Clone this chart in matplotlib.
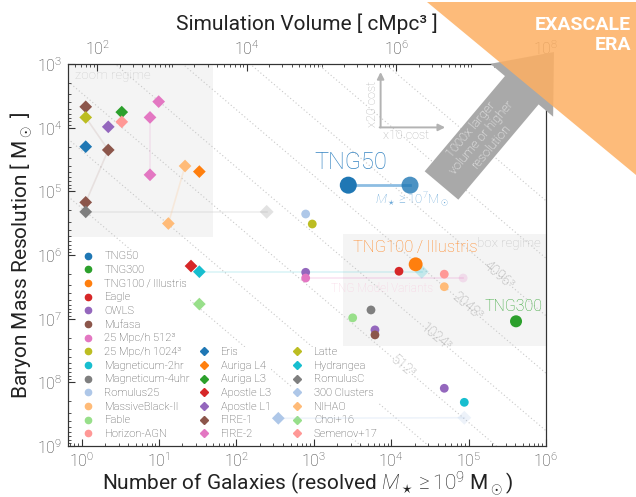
import numpy as np
import matplotlib
matplotlib.use("Agg")
import matplotlib.pyplot as plt
from matplotlib.lines import Line2D
from matplotlib.patches import Polygon, Rectangle
from matplotlib.ticker import LogLocator, NullFormatter

plt.rcParams["font.family"] = ["Roboto", "DejaVu Sans"]
plt.rcParams["font.weight"] = "light"
plt.rcParams["mathtext.fontset"] = "custom"
plt.rcParams["mathtext.rm"] = "Roboto:light"
plt.rcParams["mathtext.it"] = "Roboto:italic:light"
plt.rcParams["mathtext.bf"] = "Roboto:bold"

# ---------------- data ----------------
# cosmological volumes (circles)
box_names = ["TNG50", "TNG300", "TNG100\u2009/\u2009Illustris", "Eagle", "OWLS", "Mufasa",
             "25 Mpc/h 512\u00b3", "25 Mpc/h 1024\u00b3", "Magneticum-2hr",
             "Magneticum-4uhr", "Romulus25", "MassiveBlack-II", "Fable", "Horizon-AGN"]
box_colors = ["#1f77b4", "#2ca02c", "#ff7f0e", "#d62728", "#9467bd", "#8c564b",
              "#e377c2", "#bcbd22", "#17becf", "#7f7f7f", "#aec7e8", "#ffbb78",
              "#98df8a", "#ff9896"]
box_ngal = [[2.79e3], [4.1e5], [2.07e4], [1.26e4], [785, 6.17e3, 4.85e4], [6.17e3],
            [785], [955], [8.8e4], [5.48e3], [785], [4.85e4], [3.18e3], [4.85e4]]
box_mass = [[8.0e4], [1.1e7], [1.4e6], [1.8e6], [1.87e6, 1.5e7, 1.24e8], [1.8e7],
            [2.3e6], [3.26e5], [2.06e8], [7.3e6], [2.27e5], [3.15e6], [9.7e6], [2.0e6]]

# TNG50 counting galaxies down to M* >= 1e7 Msun
tng50_low_ngal = 1.75e4
tng50_low_mass = 8.0e4
# TNG model variants run in 25 Mpc/h boxes
variants_ngal = [785, 8.5e4]
variants_mass = [2.3e6, 2.3e6]

# zoom-in simulations (diamonds)
zoom_names = ["Eris", "Auriga L4", "Auriga L3", "Apostle L3", "Apostle L1", "FIRE-1",
              "FIRE-2", "Latte", "Hydrangea", "RomulusC", "300 Clusters", "NIHAO",
              "Choi+16", "Semenov+17"]
zoom_colors = ["#1f77b4", "#ff7f0e", "#2ca02c", "#d62728", "#9467bd", "#8c564b",
               "#e377c2", "#bcbd22", "#17becf", "#7f7f7f", "#aec7e8", "#ffbb78",
               "#98df8a", "#ff9896"]
zoom_ngal = [[1.13], [33.2], [3.3], [25.9], [2.21], [1.13, 2.21, 1.13], [9.9, 7.65, 7.65],
             [1.13], [33.2], [1.13], [348], [21.7, 13.2], [33.2], [3.3]]
zoom_mass = [[1.99e4], [4.9e4], [5.7e3], [1.49e6], [9.7e3], [4.7e3, 2.24e4, 1.49e5],
             [3.9e3, 6.9e3, 5.5e4], [6.9e3], [1.83e6], [2.1e5], [3.67e8],
             [4.0e4, 3.2e5], [5.9e6], [8.1e3]]
# effective galaxy counts of zoom projects (faded markers)
zoom_eff_ngal = [2.48e4, 246, 8.8e4]
zoom_eff_mass = [1.83e6, 2.1e5, 3.6e8]
zoom_eff_colors = ["#17becf", "#7f7f7f", "#aec7e8"]

# lines of constant particle number
npart_cuberoot = [128, 256, 512, 1024, 2048, 4096, 8192, 16384]
npart_labelled = [512, 1024, 2048, 4096]
npart_label_ngal = [1.42e4, 3.79e4, 9.53e4, 2.41e5]
rho_baryon = 6.19e9  # Msun / cMpc^3

# axis ranges and ticks
ngal_lim = (0.667, 1.0e6)
vol_lim = (10 ** 1.61, 1.0e8)
mass_lim = (1.0e9, 1.0e3)
ngal_ticks = [1e0, 1e1, 1e2, 1e3, 1e4, 1e5, 1e6]
mass_ticks = [1e3, 1e4, 1e5, 1e6, 1e7, 1e8, 1e9]
vol_ticks = [1e2, 1e4, 1e6, 1e8]

# ---------------- figure ----------------
W, H = 636, 497
fig = plt.figure(figsize=(W / 100, H / 100), dpi=100)
ax = fig.add_axes([68 / W, 51 / H, 478 / W, 382 / H])
ax.set_xscale("log")
ax.set_yscale("log")
ax.set_xlim(*ngal_lim)
ax.set_ylim(*mass_lim)

txt_col = "#333333"
for s in ax.spines.values():
    s.set_color("#333333")

# regimes
ax.add_patch(Rectangle((ngal_lim[0], 1e3), 49.9 - ngal_lim[0], 5.2e5 - 1e3,
                       facecolor="#f4f4f4", edgecolor="none", zorder=0))
ax.add_patch(Rectangle((2.36e3, 4.7e5), ngal_lim[1] - 2.36e3, 2.7e7 - 4.7e5,
                       facecolor="#f4f4f4", edgecolor="none", zorder=0))
ax.text(0.0146, 0.971, "zoom regime", transform=ax.transAxes, color="#cdcdcd",
        fontsize=9.5, ha="left", va="center")
ax.text(0.9895, 0.529, "box regime", transform=ax.transAxes, color="#c4c4c4",
        fontsize=9.5, ha="right", va="center")


def ngal_to_vol(n):
    ln0, ln1 = np.log10(ngal_lim)
    lv0, lv1 = np.log10(vol_lim)
    return 10 ** (lv0 + (np.log10(n) - ln0) * (lv1 - lv0) / (ln1 - ln0))


# constant particle-number lines
ngrid = np.logspace(np.log10(ngal_lim[0]), np.log10(ngal_lim[1]), 200)
for c in npart_cuberoot:
    ax.plot(ngrid, rho_baryon * ngal_to_vol(ngrid) / float(c) ** 3,
            color="#c8c8c8", lw=0.8, ls=(0, (1, 2.2)), zorder=1)

# faint connectors
conn_kw = dict(lw=1.2, zorder=2.6)
ax.plot([zoom_ngal[9][0], zoom_eff_ngal[1]], [zoom_mass[9][0], zoom_eff_mass[1]],
        color="#7f7f7f", alpha=0.12, **conn_kw)
ax.plot([zoom_ngal[8][0], zoom_eff_ngal[0]], [zoom_mass[8][0], zoom_eff_mass[0]],
        color="#17becf", alpha=0.15, **conn_kw)
ax.plot([zoom_ngal[10][0], zoom_eff_ngal[2]], [zoom_mass[10][0], zoom_eff_mass[2]],
        color="#aec7e8", alpha=0.2, **conn_kw)
ax.plot(variants_ngal, variants_mass, color="#e377c2", alpha=0.2, **conn_kw)
ax.plot([zoom_ngal[7][0], zoom_ngal[5][1], zoom_ngal[5][2]],
        [zoom_mass[7][0], zoom_mass[5][1], zoom_mass[5][2]],
        color="#8c564b", alpha=0.12, **conn_kw)
ax.plot(zoom_ngal[6][1:], zoom_mass[6][1:], color="#e377c2", alpha=0.15, **conn_kw)
ax.plot(zoom_ngal[11], zoom_mass[11], color="#ffbb78", alpha=0.2, **conn_kw)

# TNG50 connector
ax.plot([box_ngal[0][0], tng50_low_ngal], [box_mass[0][0], tng50_low_mass],
        color="#8dbde2", lw=2, zorder=2.7)

# faded markers
ax.scatter([variants_ngal[1]], [variants_mass[1]], s=40, color="#e377c2", alpha=0.2,
           edgecolors="none", zorder=2.8)
ax.scatter(zoom_eff_ngal, zoom_eff_mass, s=50, marker="D", color=zoom_eff_colors,
           alpha=0.22, edgecolors="none", zorder=2.8)

# box simulations
box_sizes = [150, 75, 100] + [40] * 11
for n, m, c, s in zip(box_ngal, box_mass, box_colors, box_sizes):
    ax.scatter(n, m, s=s, color=c, edgecolors="none", zorder=3)
ax.scatter([tng50_low_ngal], [tng50_low_mass], s=150, color="#1f77b4", alpha=0.8,
           edgecolors="none", zorder=3)

# zoom simulations
for n, m, c in zip(zoom_ngal, zoom_mass, zoom_colors):
    ax.scatter(n, m, s=42, marker="D", color=c, edgecolors="none", zorder=3)

# particle-number labels
for c, n in zip(npart_labelled, npart_label_ngal):
    m = rho_baryon * ngal_to_vol(n) / float(c) ** 3
    ax.text(n, m, "%d\u00b3" % c, color="#a4a4a4", fontsize=10, rotation=-40.4,
            rotation_mode="anchor", ha="center", va="center", zorder=2)

# simulation labels
ax.annotate("TNG50", (box_ngal[0][0], box_mass[0][0]), xytext=(1.5, 16),
            textcoords="offset points", ha="center", va="center", color="#3584c2",
            fontsize=17, zorder=4)
ax.annotate(r"$M_\star\geq 10^7$M$_\odot$", (tng50_low_ngal, tng50_low_mass),
            xytext=(1.5, -11), textcoords="offset points", ha="center", va="center",
            color="#6ba8d8", fontsize=9.5, zorder=4)
ax.annotate("TNG100\u2009/\u2009Illustris", (box_ngal[2][0], box_mass[2][0]),
            xytext=(0, 12), textcoords="offset points", ha="center", va="center",
            color="#ff8a2a", fontsize=12, zorder=4)
ax.annotate("TNG300", (box_ngal[1][0], box_mass[1][0]), xytext=(-1.5, 10.6),
            textcoords="offset points", ha="center", va="center", color="#3aa83a",
            fontsize=11.5, zorder=4)
ax.text(7.6e3, 3.3e6, "TNG Model Variants", color="#f7d2e2", fontsize=8.5,
        ha="center", va="center", zorder=2)

# cost arrows
arr_col = "#b3b3b3"
ax.annotate("", xy=(0.654, 0.979), xytext=(0.654, 0.834), xycoords="axes fraction",
            arrowprops=dict(arrowstyle="-|>", color=arr_col, lw=1.4, mutation_scale=10,
                            shrinkA=0, shrinkB=0))
ax.annotate("", xy=(0.789, 0.834), xytext=(0.652, 0.834), xycoords="axes fraction",
            arrowprops=dict(arrowstyle="-|>", color=arr_col, lw=1.4, mutation_scale=10,
                            shrinkA=0, shrinkB=0))
ax.text(0.636, 0.895, "x20 cost", transform=ax.transAxes, rotation=90, color=arr_col,
        fontsize=9, ha="center", va="center")
ax.text(0.707, 0.812, "x10 cost", transform=ax.transAxes, color=arr_col,
        fontsize=9, ha="center", va="center")

# ticks and labels
ax.set_xticks(ngal_ticks)
ax.set_yticks(mass_ticks)
ax.set_xlim(*ngal_lim)
ax.set_ylim(*mass_lim)
ax.xaxis.set_minor_locator(LogLocator(base=10, subs=np.arange(2, 10), numticks=20))
ax.yaxis.set_minor_locator(LogLocator(base=10, subs=np.arange(2, 10), numticks=20))
ax.xaxis.set_minor_formatter(NullFormatter())
ax.yaxis.set_minor_formatter(NullFormatter())
ax.tick_params(which="both", direction="in", top=False, right=False,
               labelsize=11.5, labelcolor=txt_col, color="#333333")
ax.tick_params(which="major", length=5, width=0.8, pad=4)
ax.tick_params(which="minor", length=2.5, width=0.6)
ax.set_xlabel(r"Number of Galaxies (resolved $M_\star \geq 10^9$ M$_\odot$)",
              fontsize=15, color="#222222")
ax.set_ylabel(r"Baryon Mass Resolution [ M$_\odot$ ]", fontsize=15, color="#222222")
ax.xaxis.set_label_coords(0.5, -0.062)
ax.yaxis.set_label_coords(-0.068, 0.5)

ax2 = ax.twiny()
ax2.set_xscale("log")
ax2.set_xlim(*vol_lim)
ax2.set_xticks(vol_ticks)
ax2.set_xlim(*vol_lim)
ax2.xaxis.set_minor_locator(LogLocator(base=10, subs=np.arange(1, 10), numticks=30))
ax2.xaxis.set_minor_formatter(NullFormatter())
ax2.tick_params(which="both", direction="in", labelsize=11.5, labelcolor=txt_col,
                color="#333333")
ax2.tick_params(which="major", length=5, width=0.8, pad=4)
ax2.tick_params(which="minor", length=2.5, width=0.6)
ax2.tick_params(axis="y", which="both", left=False, right=False,
                labelleft=False, labelright=False)
ax2.set_xlabel("Simulation Volume [ cMpc\u00b3 ]", fontsize=15, color="#222222")
ax2.xaxis.set_label_coords(0.5, 1.088)
for s in ax2.spines.values():
    s.set_color("#333333")


# legends
def handles(colors, marker, ms):
    return [Line2D([], [], ls="none", marker=marker, color=c, markersize=ms) for c in colors]


leg_kw = dict(loc="lower left", frameon=True, facecolor="white", edgecolor="none",
              framealpha=1, fancybox=False, fontsize=8, handlelength=1.0,
              handletextpad=1.0, labelspacing=0.33, borderpad=0, borderaxespad=0,
              labelcolor="#4a4a4a")
for cols, names, mk, ms, x0 in [(box_colors, box_names, "o", 4.5, 0.0297),
                                (zoom_colors[:7], zoom_names[:7], "D", 3.6, 0.273),
                                (zoom_colors[7:], zoom_names[7:], "D", 3.6, 0.468)]:
    leg = ax.legend(handles(cols, mk, ms), names, bbox_to_anchor=(x0, 0.018), **leg_kw)
    leg.set_zorder(2.5)
    ax.add_artist(leg)


# big arrow: 1000x larger volume or higher resolution
def fig_xy(px, py):
    return (px / W, 1 - py / H)


tail = np.array([441.5, 185.5])
tip = np.array([554.0, 52.0])
u = (tip - tail) / np.linalg.norm(tip - tail)
nrm = np.array([-u[1], u[0]])
if nrm[1] < 0:
    nrm = -nrm
w_body, w_head, l_head = 22, 41, 50
base = tip - l_head * u
pts = [tail - w_body * nrm, base - w_body * nrm, base - w_head * nrm, tip,
       base + w_head * nrm, base + w_body * nrm, tail + w_body * nrm]
fig.add_artist(Polygon([fig_xy(*p) for p in pts], closed=True, transform=fig.transFigure,
                       facecolor="#a9a9a9", edgecolor="none", zorder=5))
mid = tail + 62 * u
fig.text(*fig_xy(*mid), "1000x larger\nvolume or higher\nresolution", color="white",
         fontsize=9.2, rotation=49.9, rotation_mode="anchor", ha="center", va="center",
         linespacing=1.0, zorder=6)

# exascale corner
tri = [fig_xy(427, 1.5), fig_xy(636, 1.5), fig_xy(636, 175)]
fig.add_artist(Polygon(tri, closed=True, transform=fig.transFigure,
                       facecolor="#fdb064", alpha=0.86, edgecolor="none", zorder=7))
fig.text(*fig_xy(631, 25), "EXASCALE", color="white", fontsize=14, weight="bold",
         ha="right", va="center", zorder=8)
fig.text(*fig_xy(631, 45), "ERA", color="white", fontsize=14, weight="bold",
         ha="right", va="center", zorder=8)

fig.savefig("out.png", dpi=100, facecolor="white")
